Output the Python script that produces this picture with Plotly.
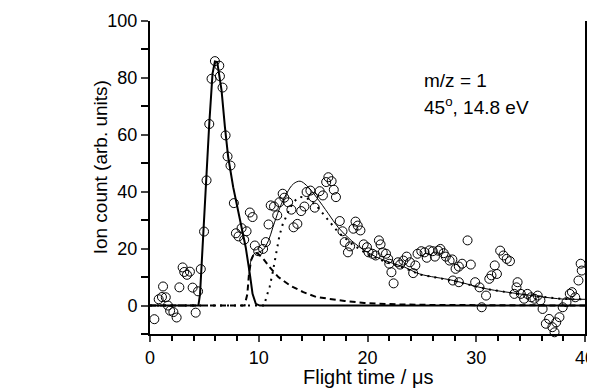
import plotly.graph_objects as go

# ---- measured data (open circles) ----
data_t = [0.4, 0.8, 1.1, 1.2, 1.45, 1.65, 1.85, 2.15, 2.45, 2.7, 3.0, 3.15, 3.4, 3.67, 3.92, 4.2, 4.42, 4.67,
          4.97, 5.2, 5.45, 5.66, 5.97, 6.37, 6.43, 6.67, 6.95, 7.13, 7.4, 7.71, 7.9, 8.14, 8.42, 8.66, 8.88,
          9.18, 9.43, 9.64, 9.95, 10.4, 10.65, 10.9, 11.1, 11.4, 11.7, 11.9, 12.2, 12.35, 12.7, 13.0, 13.2,
          13.55, 13.9, 14.2, 14.4, 14.75, 15.0, 15.15, 15.6, 15.9, 16.2, 16.4, 16.7, 16.9, 17.1, 17.45, 17.7,
          17.9, 18.2, 18.4, 18.7, 18.9, 19.1, 19.35, 19.65, 19.95, 20.1, 20.45, 20.75, 21.05, 21.2, 21.4,
          21.7, 21.9, 22.0, 22.2, 22.4, 22.8, 23.0, 23.3, 23.6, 23.9, 24.2, 24.4, 24.6, 24.95, 25.25, 25.45,
          25.7, 26.0, 26.2, 26.5, 26.7, 27.0, 27.2, 27.55, 27.8, 27.85, 28.1, 28.4, 28.4, 28.7, 29.2, 29.5,
          29.9, 30.3, 30.5, 30.9, 31.2, 31.4, 31.7, 31.9, 32.2, 32.5, 32.8, 33.1, 33.5, 33.7, 33.8, 34.1,
          34.4, 34.7, 35.05, 35.35, 35.65, 35.9, 36.1, 36.4, 36.7, 37.0, 37.2, 37.35, 37.65, 37.95, 38.3,
          38.6, 38.8, 39.1, 39.4, 39.6, 39.7]
data_v = [-4.8, 2.2, 3.0, 6.7, 2.9, 0.0, -1.8, -2.3, -4.2, 6.4, 13.4, 11.8, 10.8, 11.9, 6.3, -2.5, 5.0, 12.8,
          26.0, 44.0, 63.8, 79.7, 85.9, 84.3, 80.6, 76.6, 59.8, 52.4, 49.2, 36.0, 25.4, 24.3, 27.2, 23.1, 26.1,
          32.7, 31.1, 21.1, 19.1, 19.9, 22.3, 28.5, 35.2, 34.8, 31.7, 36.3, 39.3, 37.9, 36.3, 33.7, 27.5,
          28.7, 33.2, 34.8, 39.9, 40.4, 38.1, 34.4, 40.2, 38.7, 43.4, 45.1, 43.7, 40.7, 38.1, 29.7, 26.1,
          22.3, 18.7, 20.8, 27.0, 29.5, 28.1, 26.4, 21.5, 20.5, 18.7, 18.2, 17.6, 22.9, 21.5, 18.7,
          18.2, 16.4, 14.7, 11.7, 7.8, 15.2, 14.4, 15.8, 17.2, 15.2, 11.4, 14.1, 18.2, 19.1, 18.7, 16.8,
          19.4, 19.1, 17.2, 19.3, 19.9, 18.4, 17.2, 15.8, 16.2, 8.8, 12.9, 13.7, 8.2, 14.7, 22.9, 14.4,
          8.2, 6.4, -0.6, 3.5, 9.4, 10.6, 14.1, 11.1, 19.3, 17.6, 16.4, 15.6, 4.1, 6.4, 8.2, 4.1,
          2.4, 4.1, 2.9, 2.4, 3.5, 1.8, -1.2, -6.4, -4.7, -7.6, -9.4, -5.9, -4.1, -0.6, 1.2,
          4.1, 4.7, 2.9, 8.8, 14.7, 12.3]

# ---- fit components ----
fast_t = [0, 4.45, 4.6, 4.9, 5.2, 5.45, 5.75, 5.97, 6.18, 6.58, 6.89, 7.19, 7.65, 8.26, 8.8, 9.18, 9.43, 9.73, 10.1, 40]
fast_v = [0, 0, 4, 26, 44, 64, 81.5, 85.8, 85.6, 75.6, 62.7, 52.2, 41.6, 29.9, 20.5, 11.1, 4.1, 0.6, 0, 0]

dash_t = [0, 8.7, 8.95, 9.1, 9.3, 9.6, 9.9, 10.4, 11.0, 11.8, 12.9, 14.1, 15.3, 16.4, 17.9, 19.7, 22.8, 26, 30, 40]
dash_v = [0, 0, 4, 11, 16, 18.5, 18.3, 16.5, 13.5, 10, 7, 4.7, 3.0, 2.3, 1.6, 0.9, 0.4, 0.2, 0.1, 0]

dot_t = [0, 10.5, 10.7, 11.0, 11.3, 11.6, 11.9, 12.2, 12.55, 12.9, 13.2, 13.5, 13.8, 14.4, 15.3, 16.4, 17.3, 18.5,
         20.0, 21.6, 23.4, 24.8, 27.9, 30.9, 34.0, 37.9, 40]
dot_v = [0, 0, 3, 6.5, 12, 18, 24.5, 28.5, 31.5, 34.5, 36.3, 37.5, 38.2, 37.9, 35.1, 30.0, 25.8, 21.8,
         18.0, 15.4, 13.2, 10.9, 8.7, 5.8, 4.0, 2.3, 2.2]

sum_t = [9.1, 9.3, 9.6, 10.0, 10.4, 10.9, 11.3, 11.9, 12.55, 13.2, 13.8, 14.4, 15.3, 16.4, 17.3, 18.5, 20.0, 21.6,
         23.4, 24.8, 27.9, 30.9, 34.0, 37.9, 40]
sum_v = [11, 16, 18.3, 18.8, 19.6, 22.9, 27.5, 34, 39.3, 42.8, 43.7, 42.2, 38.1, 32.3, 27.5, 22.9, 18.7, 15.8,
         13.5, 11.1, 8.8, 5.9, 4.1, 2.3, 2.2]

x_ticks = [0, 10, 20, 30, 40]
y_ticks = [0, 20, 40, 60, 80, 100]
x_title = "Flight time / μs"
y_title = "Ion count (arb. units)"
label_lines = ["m/z = 1", "45<sup>o</sup>, 14.8 eV"]

FONT = "Arial, Liberation Sans, Helvetica, sans-serif"

fig = go.Figure()
fig.add_trace(go.Scatter(x=data_t, y=data_v, mode="markers",
                         marker=dict(symbol="circle-open", size=9, color="black", line=dict(width=1)),
                         showlegend=False, cliponaxis=False))
fig.add_trace(go.Scatter(x=dash_t, y=dash_v, mode="lines",
                         line=dict(color="black", width=2, dash="6px,4px"), showlegend=False))
fig.add_trace(go.Scatter(x=dot_t, y=dot_v, mode="lines",
                         line=dict(color="black", width=2, dash="2px,5px"), showlegend=False))
fig.add_trace(go.Scatter(x=sum_t, y=sum_v, mode="lines", line_shape="spline",
                         line=dict(color="black", width=1), showlegend=False))
fig.add_trace(go.Scatter(x=fast_t, y=fast_v, mode="lines",
                         line=dict(color="black", width=2), showlegend=False))

# the page body adds an 8px offset; margins compensate for it
fig.update_layout(
    width=595, height=382,
    margin=dict(l=142, r=17.5, t=12.7, b=56),
    paper_bgcolor="white", plot_bgcolor="white",
    font=dict(family=FONT, size=18, color="black"),
    showlegend=False,
)
fig.update_xaxes(range=[0, 40], tickvals=x_ticks, ticks="outside", ticklen=6, tickwidth=1.5,
                 minor=dict(dtick=2, ticks="outside", ticklen=5, tickwidth=1.5, tickcolor="black"),
                 showline=True, linewidth=2, linecolor="black", mirror=False, showgrid=False,
                 zeroline=False, tickfont=dict(size=18), automargin=False, ticklabeloverflow="allow")
fig.update_yaxes(range=[-10, 100], tickvals=y_ticks, ticks="outside", ticklen=7, tickwidth=1.5,
                 minor=dict(dtick=10, tick0=0, ticks="outside", ticklen=7, tickwidth=1.5, tickcolor="black"),
                 showline=True, linewidth=2, linecolor="black", mirror=True, showgrid=False,
                 zeroline=False, tickfont=dict(size=18), automargin=False, ticklabeloverflow="allow")

# axis titles
fig.add_annotation(x=0.5, y=-0.136, xref="paper", yref="paper", text=x_title, showarrow=False,
                   xanchor="center", yanchor="middle", font=dict(size=20))
fig.add_annotation(x=-0.1137, y=0.531, xref="paper", yref="paper", text=y_title, showarrow=False,
                   textangle=-90, xanchor="center", yanchor="middle", font=dict(size=19))

fig.add_annotation(x=25.0, y=79, xref="x", yref="y", text=label_lines[0], showarrow=False,
                   xanchor="left", yanchor="middle", font=dict(size=19))
fig.add_annotation(x=25.0, y=70, xref="x", yref="y", text=label_lines[1], showarrow=False,
                   xanchor="left", yanchor="middle", font=dict(size=19))

fig.write_html("out.html")
